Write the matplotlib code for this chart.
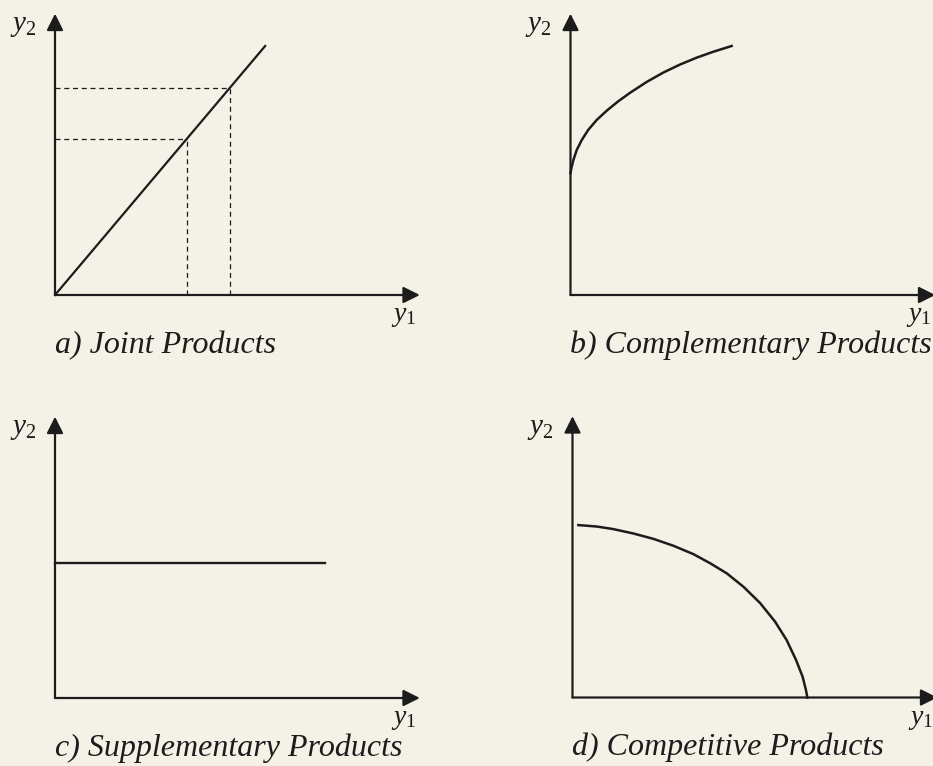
import numpy as np
import matplotlib
matplotlib.use("Agg")
import matplotlib.pyplot as plt

plt.rcParams['font.family'] = ['Liberation Serif', 'DejaVu Serif']
plt.rcParams['mathtext.fontset'] = 'custom'
plt.rcParams['mathtext.rm'] = 'Liberation Serif'
plt.rcParams['mathtext.it'] = 'Liberation Serif:italic'

# values (origin = 0,0 of each sketch)
titles = ["a) Joint Products", "b) Complementary Products",
          "c) Supplementary Products", "d) Competitive Products"]
y_label = r"$y_2$"
x_label = r"$y_\mathit{1}$"

joint_x = [0, 5.79]
joint_y = [0, 6.86]
joint_mark_x = [3.65, 4.82]
joint_mark_y = [4.30, 5.70]

comp_x = [0.0, 0.03, 0.08, 0.17, 0.31, 0.49, 0.72, 1.00, 1.32, 1.64,
          2.10, 2.56, 3.02, 3.48, 3.93, 4.44]
comp_y = [3.36, 3.52, 3.72, 3.99, 4.27, 4.55, 4.82, 5.08, 5.34, 5.57,
          5.87, 6.13, 6.35, 6.54, 6.70, 6.86]

supp_x = [0, 7.44]
supp_y = [3.72, 3.72]

compet_x = [0.16, 0.67, 1.12, 1.67, 2.23, 2.78, 3.33, 3.79, 4.25, 4.71,
            5.17, 5.58, 5.90, 6.16, 6.34, 6.43, 6.47]
compet_y = [4.75, 4.71, 4.64, 4.52, 4.37, 4.18, 3.95, 3.70, 3.42, 3.05,
            2.60, 2.09, 1.58, 1.03, 0.57, 0.21, 0.0]

# layout (pixels)
W, H, U = 933, 766, 36.3
origins = [(55, 295), (570.5, 295), (55, 698), (572.5, 697.5)]
xlim = (-1.5, 10.5)
ylim = (-1.5, 8.1)
bg = "#f4f1e6"
ink = "#1c1c1c"

fig = plt.figure(figsize=(W / 100, H / 100), dpi=100)
fig.patch.set_facecolor(bg)

axes = []
for ox, oy in origins:
    left = (ox + xlim[0] * U) / W
    bottom = (H - oy + ylim[0] * U) / H
    ax = fig.add_axes([left, bottom, (xlim[1] - xlim[0]) * U / W,
                       (ylim[1] - ylim[0]) * U / H])
    ax.set_xlim(*xlim)
    ax.set_ylim(*ylim)
    ax.axis("off")
    ax.patch.set_alpha(0)
    axes.append(ax)

for ax, title in zip(axes, titles):
    # axes with arrow heads
    for tip in [(10.05, 0), (0, 7.75)]:
        ax.annotate("", xy=tip, xytext=(0, 0),
                    arrowprops=dict(arrowstyle="-|>", lw=1.6, color=ink,
                                    mutation_scale=25, shrinkA=0, shrinkB=0))
    ax.text(-0.88, 7.41, y_label, fontsize=21, color=ink, ha="center", va="center")
    ax.text(9.6, -0.6, x_label, fontsize=20, color=ink, ha="center", va="center")
    ax.text(0.0, -1.38, title, fontsize=23, style="italic", color=ink,
            ha="left", va="center")

# a) joint products
ax = axes[0]
ax.plot(joint_x, joint_y, color=ink, lw=1.6)
for mx, my in zip(joint_mark_x, joint_mark_y):
    ax.plot([0, mx], [my, my], color=ink, lw=0.9, ls=(0, (4, 3)))
    ax.plot([mx, mx], [0, my], color=ink, lw=0.9, ls=(0, (4, 3)))

# b) complementary products
axes[1].plot(comp_x, comp_y, color=ink, lw=1.8, solid_joinstyle="round")

# c) supplementary products
axes[2].plot(supp_x, supp_y, color=ink, lw=1.7)

# d) competitive products
axes[3].plot(compet_x, compet_y, color=ink, lw=1.8, solid_joinstyle="round")

fig.savefig("out.png", dpi=100, facecolor=bg)
